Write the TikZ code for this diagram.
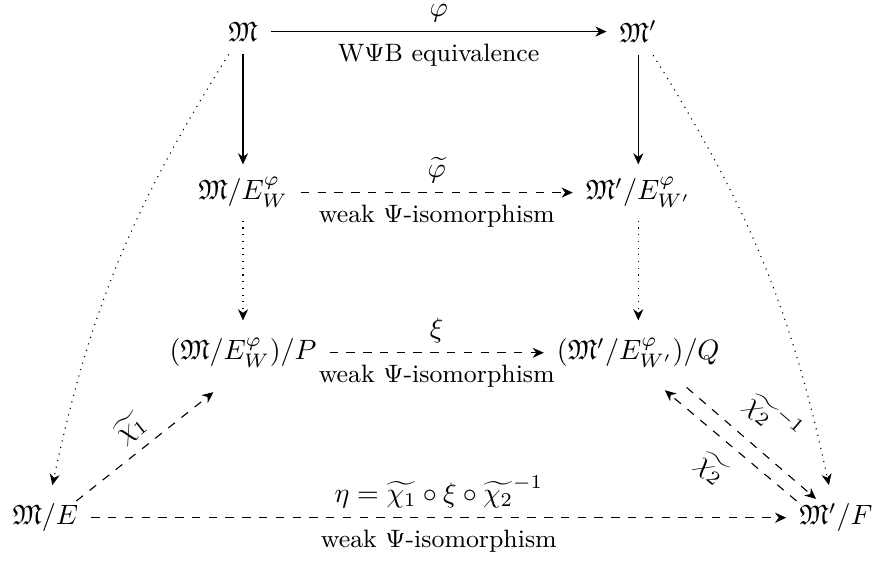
\documentclass[tikz,border=0pt]{standalone}
\usepackage{amsmath,amssymb}
\usetikzlibrary{positioning, calc, arrows.meta}

\begin{document}
\begin{tikzpicture}[
      on grid,
      obj/.style={inner sep=4.5pt},
      arrow/.style={-{Stealth[length=4pt, width=3.6pt]}},
      txt/.style={font=\small, inner sep=4.2pt},
      far/.style={inner sep=6pt}
    ]
      % objects, placed on a grid
      \node[obj] (M) {$\mathfrak{M}$};
      \node[obj, right=141.4pt of M] (Mp) {$\mathfrak{M}'$};
      \node[obj, below=57.6pt of M] (MW) {$\mathfrak{M}/E^{\varphi}_{W}$};
      \node[obj, below=57.6pt of Mp] (MpW) {$\mathfrak{M}'/E^{\varphi}_{W'}$};
      \node[obj, below=57.3pt of MW] (P) {$(\mathfrak{M}/E^{\varphi}_{W})/P$};
      \node[obj, below=57.3pt of MpW] (Q) {$(\mathfrak{M}'/E^{\varphi}_{W'})/Q$};
      \node[obj, below left=59pt and 70.7pt of P] (E) {$\mathfrak{M}/E$};
      \node[obj, below right=59pt and 70.7pt of Q] (F) {$\mathfrak{M}'/F$};

      \path[use as bounding box] ($(M)+(-85.9pt,11.3pt)$) rectangle ($(M)+(226.9pt,-190.8pt)$);

      % horizontal maps
      \draw[arrow] (M) -- node[above] {$\varphi$} node[below, txt] {W$\Psi$B equivalence} (Mp);
      \draw[arrow, dashed] (MW) -- node[above] {$\widetilde{\varphi}$} node[below, txt] {weak $\Psi$-isomorphism} (MpW);
      \draw[arrow, dashed] (P) -- node[above] {$\xi$} node[below, txt] {weak $\Psi$-isomorphism} (Q);
      \draw[arrow, dashed] (E) -- node[above] {$\eta=\widetilde{\chi_1}\circ\xi\circ\widetilde{\chi_2}^{-1}$} node[below, txt] {weak $\Psi$-isomorphism} (F);

      % vertical maps
      \draw[arrow] (M) -- (MW);
      \draw[arrow] (Mp) -- (MpW);
      \draw[arrow, dotted, shorten >=1.5pt] (MW) -- (P);
      \draw[arrow, dotted, shorten >=1.5pt] (MpW) -- (Q);

      % outer curves
      \draw[arrow, dotted, shorten >=2pt] (M) to[bend right=10] (E);
      \draw[arrow, dotted, shorten >=2pt] (Mp) to[bend left=10] (F);

      % diagonals
      \draw[arrow, dashed] ([shift={(11.1pt,6pt)}]E.center) -- node[above, sloped] {$\widetilde{\chi_1}$} ([shift={(-10.6pt,-14.1pt)}]P.center);
      \draw[arrow, dashed] ([shift={(17.3pt,-12.4pt)}]Q.center) -- node[above, sloped, far] {$\widetilde{\chi_2}^{-1}$} ([shift={(-7.1pt,6.7pt)}]F.center);
      \draw[arrow, dashed] ([shift={(-14.1pt,6pt)}]F.center) -- node[below, sloped, far] {$\widetilde{\chi_2}$} ([shift={(9.5pt,-13.4pt)}]Q.center);
    \end{tikzpicture}
\end{document}
